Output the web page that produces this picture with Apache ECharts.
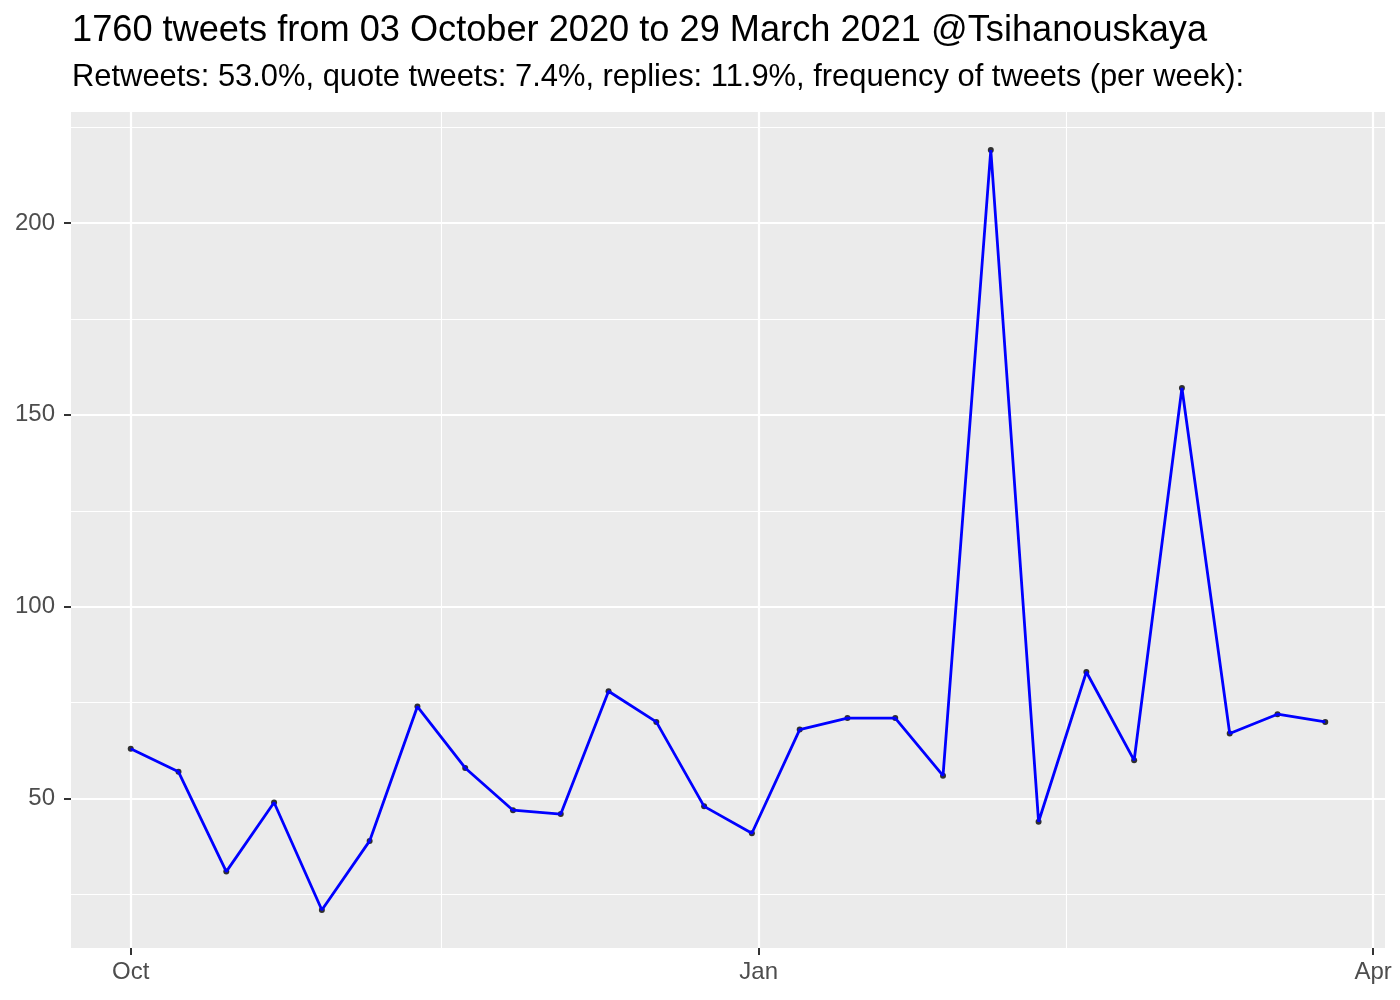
<!DOCTYPE html>
<html>
<head>
<meta charset="utf-8">
<script src="https://cdn.jsdelivr.net/npm/echarts@6/dist/echarts.min.js"></script>
<style>html,body{margin:0;padding:0;background:#fff}#c{width:1400px;height:1000px}</style>
</head>
<body>
<div id="c"></div>
<script>
// Week start dates (weekly bins)
var weeks = ["2020-10-01","2020-10-08","2020-10-15","2020-10-22","2020-10-29","2020-11-05","2020-11-12","2020-11-19","2020-11-26","2020-12-03","2020-12-10","2020-12-17","2020-12-24","2020-12-31","2021-01-07","2021-01-14","2021-01-21","2021-01-28","2021-02-04","2021-02-11","2021-02-18","2021-02-25","2021-03-04","2021-03-11","2021-03-18","2021-03-25"];
// Tweets per week
var tweets = [63,57,31,49,21,39,74,58,47,46,78,70,48,41,68,71,71,56,219,44,83,60,157,67,72,70];
// X tick labels (major breaks) and minor breaks
var xMajor = ["2020-10-01","2021-01-01","2021-04-01"];
var xMajorLabels = ["Oct","Jan","Apr"];
var xMinor = ["2020-11-15T12:00:00Z","2021-02-15T00:00:00Z"];
// Y breaks
var yMajor = [50,100,150,200];
var yMinor = [25,75,125,175,225];

var titleText = "1760 tweets from 03 October 2020 to 29 March 2021 @Tsihanouskaya";
var subtitleText = "Retweets: 53.0%, quote tweets: 7.4%, replies: 11.9%, frequency of tweets (per week):";

function ts(s){ return s.length === 10 ? Date.parse(s + "T00:00:00Z") : Date.parse(s); }
var xs = weeks.map(ts);
var xMin = xs[0], xMax = xs[xs.length-1];
var xPad = (xMax - xMin) * 0.05;
var yLo = Math.min.apply(null, tweets), yHi = Math.max.apply(null, tweets);
var yPad = (yHi - yLo) * 0.05;

var pts = xs.map(function(x,i){ return [x, tweets[i]]; });
var majorTs = xMajor.map(ts);
var labelMap = {};
majorTs.forEach(function(t,i){ labelMap[t] = xMajorLabels[i]; });

var chart = echarts.init(document.getElementById('c'), null, {renderer:'canvas'});
var font = "'Liberation Sans', Arial, Helvetica, sans-serif";
chart.setOption({
  animation: false,
  backgroundColor: '#ffffff',
  title: [
    {text: titleText, left: 67, top: 8, textStyle:{fontFamily:font, fontSize:36.2, fontWeight:'normal', color:'#000'}},
    {text: subtitleText, left: 67, top: 57, textStyle:{fontFamily:font, fontSize:30.9, fontWeight:'normal', color:'#000'}}
  ],
  grid: {left:71, right:15, top:112, bottom:52, show:true, backgroundColor:'#EBEBEB', borderWidth:0, containLabel:false},
  xAxis: {
    type:'value', min: xMin - xPad, max: xMax + xPad,
    axisLine:{show:false},
    axisTick:{show:true, customValues: majorTs, length:7, lineStyle:{color:'#333333', width:2}},
    axisLabel:{customValues: majorTs, margin:12, fontFamily:font, fontSize:24, color:'#4D4D4D',
      formatter:function(v){ return labelMap[v] || ''; }},
    splitLine:{show:false}
  },
  yAxis: {
    type:'value', min: yLo - yPad, max: yHi + yPad,
    axisLine:{show:false},
    axisTick:{show:true, customValues: yMajor, length:7, lineStyle:{color:'#333333', width:2}},
    axisLabel:{customValues: yMajor, margin:16, fontFamily:font, fontSize:24, color:'#4D4D4D'},
    splitLine:{show:false}
  },
  series: [
    {type:'line', data:[], silent:true, z:1,
      markLine:{silent:true, z:1, symbol:['none','none'], label:{show:false}, animation:false,
        lineStyle:{color:'#FFFFFF', width:1.1, type:'solid'},
        data: xMinor.map(function(s){return {xAxis: ts(s)};}).concat(yMinor.map(function(v){return {yAxis:v};}))}},
    {type:'line', data:[], silent:true, z:1,
      markLine:{silent:true, z:1, symbol:['none','none'], label:{show:false}, animation:false,
        lineStyle:{color:'#FFFFFF', width:2.2, type:'solid'},
        data: majorTs.map(function(t){return {xAxis:t};}).concat(yMajor.map(function(v){return {yAxis:v};}))}},
    {type:'scatter', data: pts, symbol:'circle', symbolSize:6, itemStyle:{color:'#000000'}, z:8, silent:true},
    {type:'line', data: pts, showSymbol:false, lineStyle:{color:'#0000FF', width:2.8}, z:9, silent:true}
  ]
});
</script>
</body>
</html>
